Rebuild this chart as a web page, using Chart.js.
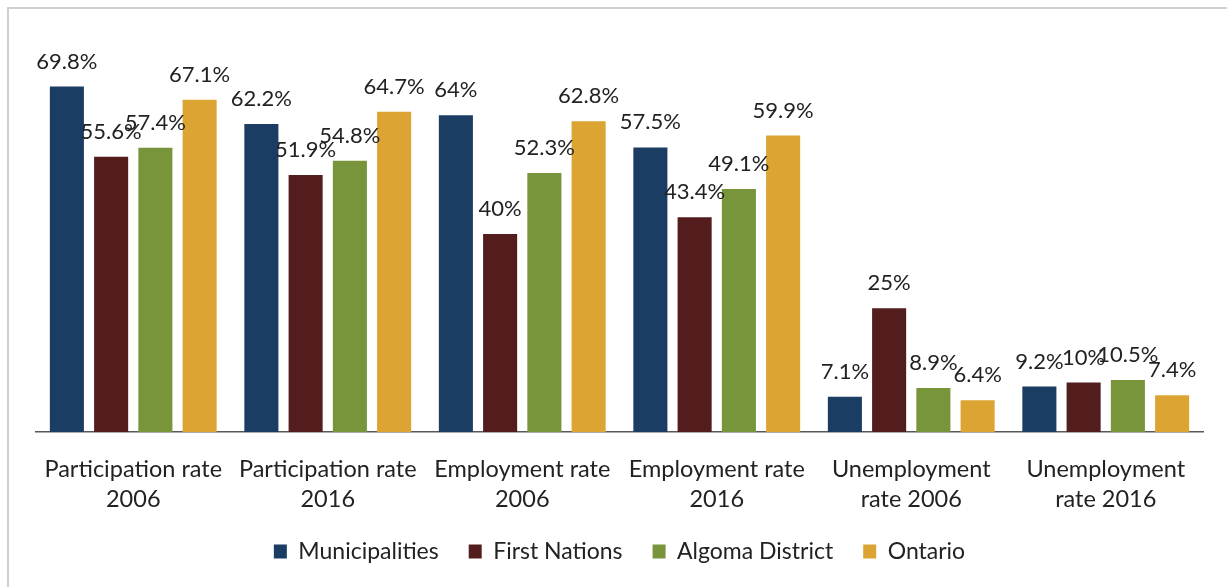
<!DOCTYPE html>
<html>
<head>
<meta charset="utf-8">
<script src="https://cdn.jsdelivr.net/npm/chart.js@4/dist/chart.umd.min.js"></script>
<style>
  html, body { margin: 0; padding: 0; background: #fff; }
  #wrap { width: 1227px; height: 587px; position: relative; }
</style>
</head>
<body>
<div id="wrap"><canvas id="labourChart"></canvas></div>
<script>
var categories = [
    ['Participation rate', '2006'],
    ['Participation rate', '2016'],
    ['Employment rate', '2006'],
    ['Employment rate', '2016'],
    ['Unemployment', 'rate 2006'],
    ['Unemployment', 'rate 2016']
];
var seriesNames = ['Municipalities', 'First Nations', 'Algoma District', 'Ontario'];
var municipalities = [69.8, 62.2, 64, 57.5, 7.1, 9.2];
var firstNations = [55.6, 51.9, 40, 43.4, 25, 10];
var algomaDistrict = [57.4, 54.8, 52.3, 49.1, 8.9, 10.5];
var ontario = [67.1, 64.7, 62.8, 59.9, 6.4, 7.4];
var seriesColors = ['#1b3d63', '#531d1e', '#78953c', '#dca433'];

var textColor = '#222222';
var fontFamily = 'Lato, "Open Sans", sans-serif';

// light frame along the top and left edge
var framePlugin = {
    id: 'frame',
    beforeDraw: function (chart) {
        var ctx = chart.ctx;
        ctx.save();
        ctx.fillStyle = '#ffffff';
        ctx.fillRect(0, 0, chart.width, chart.height);
        ctx.strokeStyle = '#cfcfcf';
        ctx.lineWidth = 2;
        ctx.beginPath();
        ctx.moveTo(8, chart.height);
        ctx.lineTo(8, 8);
        ctx.lineTo(chart.width, 8);
        ctx.stroke();
        ctx.restore();
    }
};

// value labels above each bar
var valueLabels = {
    id: 'valueLabels',
    afterDatasetsDraw: function (chart) {
        var ctx = chart.ctx;
        ctx.save();
        ctx.font = '22px ' + fontFamily;
        ctx.fillStyle = textColor;
        ctx.textAlign = 'center';
        ctx.textBaseline = 'middle';
        chart.data.datasets.forEach(function (ds, i) {
            chart.getDatasetMeta(i).data.forEach(function (bar, j) {
                ctx.fillText(ds.data[j] + '%', bar.x, bar.y - 25);
            });
        });
        ctx.restore();
    }
};

var allSeries = [municipalities, firstNations, algomaDistrict, ontario];

var chart = new Chart(document.getElementById('labourChart'), {
    type: 'bar',
    data: {
        labels: categories,
        datasets: allSeries.map(function (values, i) {
            return {
                label: seriesNames[i],
                data: values,
                backgroundColor: seriesColors[i],
                borderWidth: 0,
                categoryPercentage: 0.91,
                barPercentage: 0.77
            };
        })
    },
    options: {
        responsive: true,
        maintainAspectRatio: false,
        animation: false,
        layout: {
            padding: { left: 36, right: 24, top: 36, bottom: 14 }
        },
        plugins: {
            legend: {
                position: 'bottom',
                labels: {
                    color: textColor,
                    font: { family: fontFamily, size: 23 },
                    boxWidth: 13,
                    boxHeight: 14,
                    padding: 30
                }
            },
            tooltip: { enabled: false }
        },
        scales: {
            x: {
                grid: { display: false, drawTicks: false },
                border: { display: true, color: '#595959', width: 1.5 },
                ticks: {
                    color: textColor,
                    font: { family: fontFamily, size: 23.5, lineHeight: 1.28 },
                    padding: 22,
                    maxRotation: 0,
                    autoSkip: false
                },
                afterFit: function (scale) {
                    scale.height = 78;
                }
            },
            y: {
                display: false,
                min: 0,
                max: 80
            }
        }
    },
    plugins: [framePlugin, valueLabels]
});
</script>
</body>
</html>
